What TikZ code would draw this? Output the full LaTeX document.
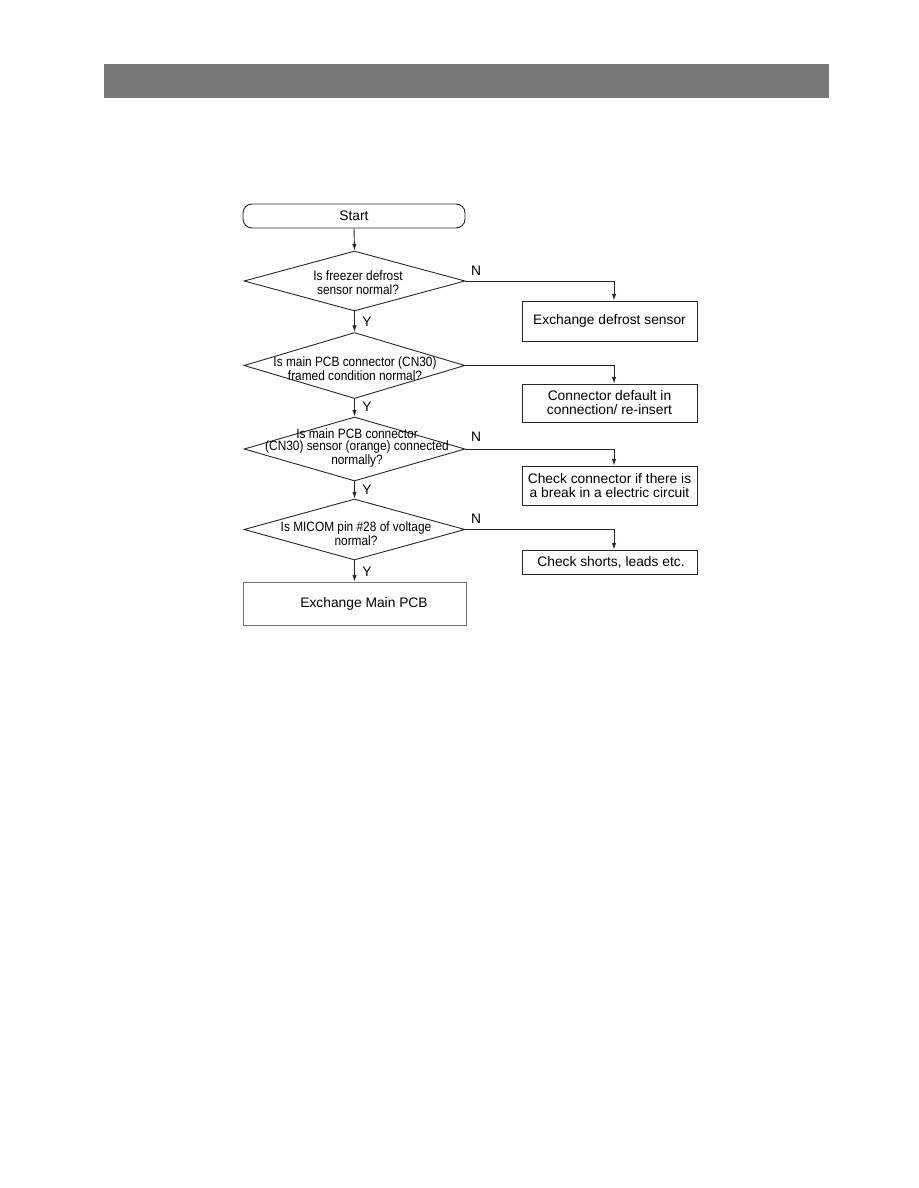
\documentclass[tikz,border=0pt]{standalone}
\usepackage{fontspec}
\setmainfont{Liberation Sans}
\newfontfamily\condfont[FakeStretch=0.88]{Liberation Sans}
\usetikzlibrary{shapes.geometric,arrows.meta}
\newlength\pxl
\setlength\pxl{0.6667pt}
\begin{document}
\begin{tikzpicture}[x=\pxl,y=-\pxl,
  line/.style={draw=black!85,line width=0.6pt},
  arr/.style={line,-{Latex[length=4.5pt,width=3pt]}},
  box/.style={line,rectangle,inner sep=0pt,minimum width=175\pxl,align=center,font=\fontsize{9.2pt}{9.4pt}\selectfont},
  startbox/.style={line,rectangle,rounded corners=9\pxl,inner sep=0pt,minimum width=222\pxl,minimum height=24\pxl,font=\fontsize{9.2pt}{10pt}\selectfont},
  dia/.style={line,diamond,inner sep=0pt,minimum width=221\pxl},
  dtext/.style={align=center,inner sep=0pt,font=\condfont\fontsize{9pt}{7.9pt}\selectfont},
  yn/.style={inner sep=0pt,font=\fontsize{9.2pt}{10pt}\selectfont}
]
\useasboundingbox (0,0) rectangle (918,1188);
\fill[fill=black!53] (104,64) rectangle (829,98);

\node[startbox] (start) at (354,216) {Start};

\node[dia,minimum height=60\pxl] (d1) at (354.5,281) {};
\node[dtext,font=\condfont\fontsize{9pt}{9.4pt}\selectfont] (t1) at (358,283) {Is freezer defrost\\sensor normal?};
\node[dia,minimum height=66\pxl] (d2) at (354.5,365.5) {};
\node[dtext] (t2) at (355,369) {Is main PCB connector (CN30)\\framed condition normal?};
\node[dia,minimum height=64\pxl] (d3) at (354.5,449) {};
\node[dtext] (t3) at (357,448) {Is main PCB connector\\(CN30) sensor (orange) connected\\normally?};
\node[dia,minimum height=61\pxl] (d4) at (354.5,529.5) {};
\node[dtext] (t4) at (356,534) {Is MICOM pin \#28 of voltage\\normal?};

\node[box,minimum height=40\pxl] (b1) at (609.5,321) {Exchange defrost sensor};
\node[box,minimum height=38\pxl] (b2) at (609.5,403) {Connector default in\\connection/ re-insert};
\node[box,minimum height=39\pxl] (b3) at (609.5,485.5) {Check connector if there is\\a break in a electric circuit};
\node[box,minimum height=24\pxl] (b4) at (609.5,562) {\hspace*{3\pxl}Check shorts, leads etc.};
\node[box,draw=black!55,minimum width=223\pxl,minimum height=43\pxl] (b5) at (354.5,603.5) {};
\node[inner sep=0pt,font=\fontsize{9.2pt}{10pt}\selectfont] (t5) at (364,603.5) {Exchange Main PCB};

\draw[arr] (start.south) -- (d1.north);
\draw[arr] (d1.south) -- (d2.north);
\draw[arr] (d2.south) -- (d3.north);
\draw[arr] (d3.south) -- (d4.north);
\draw[arr] (d4.south) -- (b5.north);

\draw[arr] (d1.east) -| ([xshift=4.5\pxl]b1.north);
\draw[arr] (d2.east) -| ([xshift=4.5\pxl]b2.north);
\draw[arr] (d3.east) -| ([xshift=4.5\pxl]b3.north);
\draw[arr] (d4.east) -| ([xshift=4.5\pxl]b4.north);

\node[yn] (n1) at (476,271) {N};
\node[yn] (n3) at (476,437) {N};
\node[yn] (n4) at (476,519) {N};
\node[yn] (y1) at (367,322) {Y};
\node[yn] (y2) at (367,407) {Y};
\node[yn] (y3) at (367,490) {Y};
\node[yn] (y4) at (367,572) {Y};
\end{tikzpicture}
\end{document}
